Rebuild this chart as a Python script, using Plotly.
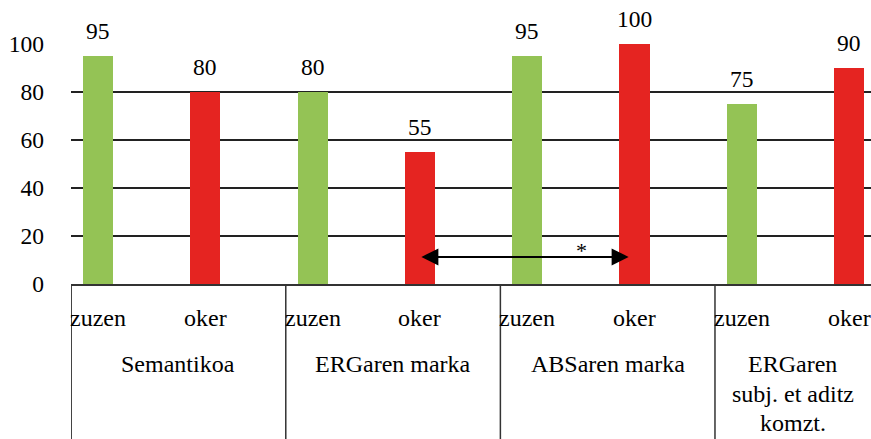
import plotly.graph_objects as go

groups = ["Semantikoa", "ERGaren marka", "ABSaren marka", "ERGaren<br>subj. et aditz<br>komzt."]
conditions = ["zuzen", "oker"]
values = [95, 80, 80, 55, 95, 100, 75, 90]
colors_by_cond = {"zuzen": "#94C355", "oker": "#E52421"}
sig_pair = (3, 5)
sig_label = "*"
sig_level = 11.3

FONT = "Liberation Serif"
FS_NUM = 23.5
FS_LAB = 24

xs = list(range(len(values)))
cond_labels = [conditions[i % 2] for i in xs]
bar_colors = [colors_by_cond[c] for c in cond_labels]

XMIN, XMAX = -0.2516, 7.204
PLOT_H = 240
BOTTOM = 155

fig = go.Figure()
fig.add_trace(go.Bar(x=xs, y=values, marker=dict(color=bar_colors, line=dict(width=0)),
                     width=0.28, hoverinfo="skip", showlegend=False))

ann = []
# value labels
for x, v in zip(xs, values):
    ann.append(dict(x=x, y=v, xref="x", yref="y", text=str(v), showarrow=False,
                    yanchor="bottom", yshift=10, font=dict(family=FONT, size=FS_NUM, color="black")))
# condition labels
for x, c in zip(xs, cond_labels):
    ann.append(dict(x=x, y=-34 / PLOT_H, xref="x", yref="paper", text=c, showarrow=False,
                    yanchor="middle", font=dict(family=FONT, size=FS_LAB, color="black")))
# group labels & separators
shapes = []
for g, name in enumerate(groups):
    left = 2 * g - 0.25
    right = min(2 * g + 1.75, XMAX)
    cx = (left + right) / 2
    lines = name.split("<br>")
    for k, line in enumerate(lines):
        ann.append(dict(x=cx, y=-(80 + 29.5 * k) / PLOT_H, xref="x", yref="paper", text=line,
                        showarrow=False, yanchor="middle",
                        font=dict(family=FONT, size=FS_LAB, color="black")))
    shapes.append(dict(type="line", xref="x", yref="paper", x0=left, x1=left, y0=0,
                       y1=-BOTTOM / PLOT_H, line=dict(color="#333", width=1.5)))

# significance arrow
ann.append(dict(x=sig_pair[1] - 0.055, y=sig_level, ax=sig_pair[0], ay=sig_level,
                xref="x", yref="y", axref="x", ayref="y", text="", showarrow=True,
                arrowhead=2, startarrowhead=2, arrowside="end+start", arrowsize=1.7,
                arrowwidth=2, arrowcolor="black"))
ann.append(dict(x=4.51, y=sig_level, xref="x", yref="y", text=sig_label, showarrow=False,
                yanchor="bottom", yshift=-8, font=dict(family=FONT, size=22, color="black")))

fig.update_layout(
    width=871, height=439,
    margin=dict(l=71, r=0, t=44, b=BOTTOM),
    plot_bgcolor="white", paper_bgcolor="white",
    font=dict(family=FONT, size=FS_NUM, color="black"),
    annotations=ann, shapes=shapes,
    xaxis=dict(range=[XMIN, XMAX], showticklabels=False, ticks="", showgrid=False,
               zeroline=False, showline=True, linecolor="#333", linewidth=1.5),
    yaxis=dict(range=[0, 100], tickvals=[0, 20, 40, 60, 80, 100], showgrid=True,
               gridcolor="#222", gridwidth=1.5, zeroline=False, ticks="",
               ticklabelstandoff=26,
               tickfont=dict(family=FONT, size=FS_NUM, color="black")),
    bargap=0,
)
fig.update_traces(cliponaxis=False)
fig.write_html("out.html")
